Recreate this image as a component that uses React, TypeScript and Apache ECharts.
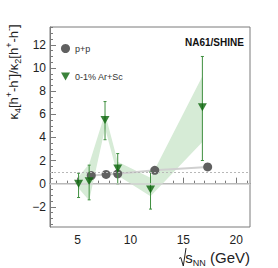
import React, { useEffect, useRef } from 'react';
import * as echarts from 'echarts';

// p+p
const ppX = [6.3, 7.7, 8.8, 12.3, 17.3];
const ppY = [0.7, 0.8, 0.85, 1.15, 1.45];
// 0-1% Ar+Sc
const arX = [5.1, 6.1, 7.6, 8.8, 11.9, 16.8];
const arY = [0.0, 0.2, 5.5, 1.3, -0.5, 6.6];
const arErrLow = [-1.2, -1.4, 3.8, -0.05, -2.2, 2.0];
const arErrHigh = [0.9, 1.6, 7.1, 2.6, 1.0, 11.0];
const arSysLow = [-0.4, -1.45, 4.8, 0.7, -1.1, 3.6];
const arSysHigh = [0.6, 1.7, 6.1, 1.9, 0.5, 9.3];

const yMajor = [-2, 0, 2, 4, 6, 8, 10, 12];
const yMinor = [-3.5, -3, -2.5, -1.5, -1, -0.5, 0.5, 1, 1.5, 2.5, 3, 3.5, 4.5, 5, 5.5, 6.5, 7, 7.5, 8.5, 9, 9.5, 10.5, 11, 11.5, 12.5, 13, 13.5];
const xMajor = [5, 10, 15, 20];
const xMinor = [3, 4, 6, 7, 8, 9, 11, 12, 13, 14, 16, 17, 18, 19, 21];

const TRI = 'path://M0,0L10,0L5,9Z';
const FONT = '"Liberation Sans", Arial, Helvetica, sans-serif';
const AXIS_GRAY = '#7a7a7a';

export default function App() {
  const ref = useRef<HTMLDivElement>(null);
  useEffect(() => {
    if (!ref.current) return;
    const chart = echarts.init(ref.current, undefined, { renderer: 'svg' });
    const fmtY = (v: number) => (v < 0 ? '\u2212' + Math.abs(v) : String(v));
    const option: any = {
      animation: false,
      textStyle: { fontFamily: FONT },
      grid: { left: 50, top: 27, width: 200, height: 200, show: true, borderColor: AXIS_GRAY, borderWidth: 1 },
      legend: {
        orient: 'vertical',
        left: 61,
        top: 44,
        padding: 0,
        itemGap: 19,
        itemWidth: 9,
        itemHeight: 9,
        textStyle: { fontSize: 9, color: '#333', fontFamily: FONT },
        data: [
          { name: 'p+p', icon: 'circle', itemStyle: { color: '#606060' } },
          { name: '0-1% Ar+Sc', icon: TRI, itemStyle: { color: '#0a640a' } },
        ],
      },
      xAxis: [
        {
          type: 'value', min: 2.4, max: 21.3,
          axisLine: { show: true, lineStyle: { color: AXIS_GRAY } },
          splitLine: { show: false },
          axisTick: { show: true, inside: true, length: 6, customValues: xMajor, lineStyle: { color: AXIS_GRAY } },
          axisLabel: { customValues: xMajor, fontSize: 12, color: '#222', margin: 7, fontFamily: FONT },
        },
        {
          type: 'value', min: 2.4, max: 21.3, position: 'bottom', offset: 0,
          axisLine: { show: false },
          splitLine: { show: false },
          axisTick: { show: true, inside: true, length: 3, customValues: xMinor, lineStyle: { color: AXIS_GRAY } },
          axisLabel: { show: false },
        },
      ],
      yAxis: [
        {
          type: 'value', min: -3.75, max: 13.55,
          axisLine: { show: true, lineStyle: { color: AXIS_GRAY } },
          splitLine: { show: false },
          axisTick: { show: true, inside: true, length: 6, customValues: yMajor, lineStyle: { color: AXIS_GRAY } },
          axisLabel: { customValues: yMajor, fontSize: 12, color: '#222', margin: 4, formatter: fmtY, fontFamily: FONT },
        },
        {
          type: 'value', min: -3.75, max: 13.55, position: 'left', offset: 0,
          axisLine: { show: false },
          splitLine: { show: false },
          axisTick: { show: true, inside: true, length: 3, customValues: yMinor, lineStyle: { color: AXIS_GRAY } },
          axisLabel: { show: false },
        },
      ],
      series: [
        {
          type: 'custom',
          name: 'sys',
          silent: true,
          data: arX.map((x, i) => [x, arSysLow[i], arSysHigh[i]]),
          encode: { x: 0, y: [1, 2] },
          renderItem: (params: any, api: any) => {
            if (params.dataIndex !== 0) return null;
            const pts: number[][] = [];
            for (let i = 0; i < arX.length; i++) pts.push(api.coord([arX[i], arSysHigh[i]]));
            for (let i = arX.length - 1; i >= 0; i--) pts.push(api.coord([arX[i], arSysLow[i]]));
            return { type: 'polygon', shape: { points: pts }, style: { fill: '#d6ebd6' } };
          },
          z: 1,
        },
        {
          type: 'line',
          name: 'p+p',
          data: ppX.map((x, i) => [x, ppY[i]]),
          symbol: 'circle',
          symbolSize: 9,
          itemStyle: { color: '#606060' },
          lineStyle: { color: '#d0d0d0', width: 2 },
          markLine: {
            silent: true,
            symbol: 'none',
            label: { show: false },
            data: [
              { yAxis: 0, lineStyle: { color: '#cfcfcf', width: 1.5, type: 'solid' } },
              { yAxis: 1, lineStyle: { color: '#b8b8b8', width: 1, type: [2, 2] } },
            ],
          },
          z: 3,
        },
        {
          type: 'custom',
          name: 'err',
          silent: true,
          data: arX.map((x, i) => [x, arErrLow[i], arErrHigh[i]]),
          encode: { x: 0, y: [1, 2] },
          renderItem: (params: any, api: any) => {
            const x = api.value(0);
            const p1 = api.coord([x, api.value(2)]);
            const p2 = api.coord([x, api.value(1)]);
            const st = { stroke: '#3f8f3f', lineWidth: 1 };
            return {
              type: 'group',
              children: [
                { type: 'line', shape: { x1: p1[0], y1: p1[1], x2: p2[0], y2: p2[1] }, style: st },
                { type: 'line', shape: { x1: p1[0] - 1.5, y1: p1[1], x2: p1[0] + 1.5, y2: p1[1] }, style: st },
                { type: 'line', shape: { x1: p2[0] - 1.5, y1: p2[1], x2: p2[0] + 1.5, y2: p2[1] }, style: st },
              ],
            };
          },
          z: 4,
        },
        {
          type: 'scatter',
          name: '0-1% Ar+Sc',
          data: arX.map((x, i) => [x, arY[i]]),
          symbol: TRI,
          symbolSize: [9, 8],
          itemStyle: { color: '#0a640a' },
          z: 5,
        },
      ],
      graphic: [
        {
          type: 'text', left: 185, top: 37, z: 10,
          style: { text: 'NA61/SHINE', font: 'bold 10px ' + FONT, fill: '#111' },
        },
        {
          type: 'text', x: 13, y: 72, rotation: Math.PI / 2, z: 10,
          style: {
            text: '{a|\u03ba}{sub|4}{a|[h}{sup|+}{a|-h}{sup|-}{a|]/\u03ba}{sub|2}{a|[h}{sup|+}{a|-h}{sup|-}{a|]}',
            align: 'center', verticalAlign: 'middle',
            rich: {
              a: { fontSize: 13, fontFamily: FONT, fill: '#222', lineHeight: 18 },
              sub: { fontSize: 9, fontFamily: FONT, fill: '#222', lineHeight: 10, verticalAlign: 'bottom' },
              sup: { fontSize: 9, fontFamily: FONT, fill: '#222', lineHeight: 10, verticalAlign: 'top' },
            },
          },
        },
        {
          type: 'polyline', z: 10,
          shape: { points: [[179, 258.5], [180.8, 257.5], [183.3, 266], [186, 248]] },
          style: { stroke: '#222', lineWidth: 1, fill: null },
        },
        {
          type: 'text', x: 250, y: 257, z: 10,
          style: {
            text: '{a|s}{sub|NN}{a| (GeV)}',
            align: 'right', verticalAlign: 'middle',
            rich: {
              a: { fontSize: 15, fontFamily: FONT, fill: '#222', lineHeight: 20 },
              sub: { fontSize: 9, fontFamily: FONT, fill: '#222', lineHeight: 10, verticalAlign: 'bottom' },
            },
          },
        },
      ],
    };
    chart.setOption(option);
    return () => chart.dispose();
  }, []);
  return <div ref={ref} style={{ position: 'absolute', left: 0, top: 0, width: 278, height: 268 }} />;
}
